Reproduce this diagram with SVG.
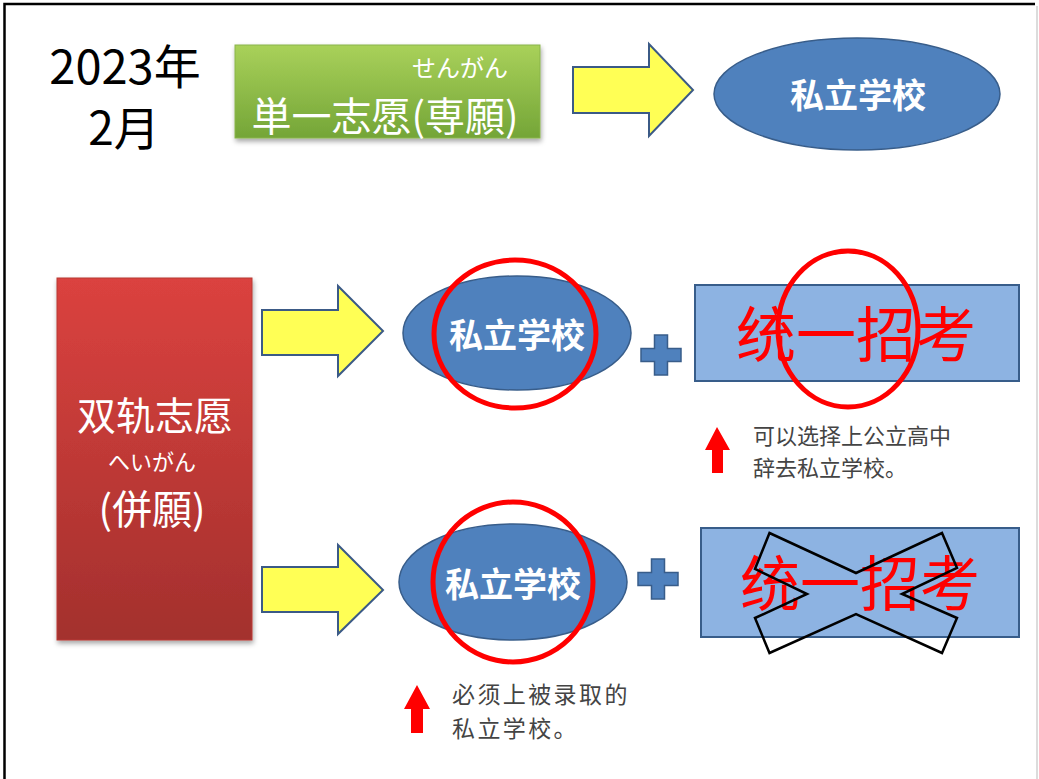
<svg xmlns="http://www.w3.org/2000/svg" width="1039" height="779" viewBox="0 0 1039 779">
<defs>
<linearGradient id="gGreen" x1="0" y1="0" x2="0" y2="1">
<stop offset="0" stop-color="#a9d15a"/>
<stop offset="1" stop-color="#74a537"/>
</linearGradient>
<linearGradient id="gRed" x1="0" y1="0" x2="0" y2="1">
<stop offset="0" stop-color="#db423f"/>
<stop offset="1" stop-color="#a3302d"/>
</linearGradient>
<filter id="sh" x="-10%" y="-10%" width="125%" height="125%">
<feDropShadow dx="1" dy="3" stdDeviation="2.5" flood-color="#000" flood-opacity="0.35"/>
</filter>
<path id="plus" d="M-6.5,-20 h13 v13.5 h13.5 v13 h-13.5 v13.5 h-13 v-13.5 h-13.5 v-13 h13.5 z"/>
</defs>
<style>
.cjk{font-family:"Noto Sans CJK SC","Noto Sans CJK JP",sans-serif}
.jp{font-family:"Noto Sans CJK JP","Noto Sans CJK SC",sans-serif}
.white{fill:#ffffff}
.ell{fill:#4f81bd;stroke:#385d8a;stroke-width:1.5}
.box{fill:#8db3e2;stroke:#385d8a;stroke-width:2}
.yarrow{fill:#ffff55;stroke:#3b5a86;stroke-width:2;stroke-linejoin:miter}
.ring{fill:none;stroke:#ff0000;stroke-width:5}
.plus{fill:#4f81bd;stroke:#385d8a;stroke-width:1.5}
.note{font-family:"Noto Sans CJK SC",sans-serif;fill:#444444}
.redup{fill:#ff0000}
.big{font-family:"Noto Sans CJK SC",sans-serif;fill:#ff0000;font-size:60px}
.etext{font-family:"Noto Sans CJK SC",sans-serif;fill:#ffffff;font-size:34px;font-weight:bold}
</style>
<rect x="0" y="0" width="1039" height="779" fill="#ffffff"/>
<path d="M4.5,785 V4 H1035" fill="none" stroke="#000000" stroke-width="2.5"/>
<line x1="1037" y1="6" x2="1037" y2="779" stroke="#d0d0d0" stroke-width="1.5"/>

<g id="date">
<text x="125" y="84" text-anchor="middle" class="jp" font-size="47" fill="#000">2023年</text>
<text x="124" y="145" text-anchor="middle" class="jp" font-size="46" fill="#000">2月</text>
</g>

<g id="single">
<rect x="235" y="45" width="305" height="93" fill="url(#gGreen)" stroke="#8ab44a" stroke-width="1" filter="url(#sh)"/>
<text x="508" y="77" text-anchor="end" class="jp white" font-size="24">せんがん</text>
<text x="385" y="131" text-anchor="middle" class="jp white" font-size="40">単一志愿(専願)</text>
</g>

<g id="dual">
<rect x="57" y="278" width="195" height="362" fill="url(#gRed)" stroke="#b83835" stroke-width="1" filter="url(#sh)"/>
<text x="155" y="430" text-anchor="middle" class="cjk white" font-size="39">双轨志愿</text>
<text x="152" y="470" text-anchor="middle" class="jp white" font-size="22">へいがん</text>
<text x="152" y="524" text-anchor="middle" class="jp white" font-size="40">(併願)</text>
</g>

<g id="connectors">
<polygon class="yarrow" points="573,67 649,67 649,44 693,90 649,136 649,113 573,113"/>
<polygon class="yarrow" points="262,310 338,310 338,286 383,331 338,376 338,355 262,355"/>
<polygon class="yarrow" points="262,567 338,567 338,545 383,590 338,634 338,612 262,612"/>
</g>

<g id="school1">
<ellipse class="ell" cx="857" cy="94" rx="143" ry="56"/>
<text x="858" y="108" text-anchor="middle" class="etext">私立学校</text>
</g>

<g id="school2">
<ellipse class="ell" cx="517" cy="333" rx="114" ry="57"/>
<text x="517" y="348" text-anchor="middle" class="etext">私立学校</text>
</g>

<g id="plus2">
<use href="#plus" class="plus" x="661" y="355"/>
</g>

<g id="exam2">
<rect class="box" x="695" y="285" width="324" height="96"/>
<text x="856" y="357" text-anchor="middle" class="big">统一招考</text>
</g>

<g id="ring2">
<ellipse class="ring" cx="515" cy="334" rx="81" ry="74"/>
</g>
<g id="ring3">
<ellipse class="ring" cx="848" cy="329" rx="70" ry="78"/>
</g>

<g id="note1">
<polygon class="redup" points="717,427 730,450 723,450 723,473 712,473 712,450 705,450"/>
<text x="753" y="444" class="note" font-size="22">可以选择上公立高中</text>
<text x="753" y="476" class="note" font-size="22">辞去私立学校。</text>
</g>

<g id="school3">
<ellipse class="ell" cx="513" cy="582" rx="114" ry="58"/>
<text x="513" y="597" text-anchor="middle" class="etext">私立学校</text>
</g>

<g id="plus3">
<use href="#plus" class="plus" x="658" y="579"/>
</g>

<g id="exam3">
<rect class="box" x="701" y="528" width="318" height="109"/>
<text x="860" y="606" text-anchor="middle" class="big">统一招考</text>
<polygon points="769.5,533 856,573 942,533 957,568 902,594 957,618 942,653 856,614 769.5,653 755,618 807,594 755,569" fill="none" stroke="#000000" stroke-width="2.5" stroke-linejoin="miter"/>
</g>

<g id="ring4">
<ellipse class="ring" cx="513" cy="582" rx="80" ry="80"/>
</g>

<g id="note2">
<polygon class="redup" points="417,685 430,709 423,709 423,733 411,733 411,709 404,709"/>
<text x="452" y="703" class="note" font-size="23" letter-spacing="2.4">必须上被录取的</text>
<text x="452" y="737" class="note" font-size="23" letter-spacing="2.4">私立学校。</text>
</g>
</svg>
